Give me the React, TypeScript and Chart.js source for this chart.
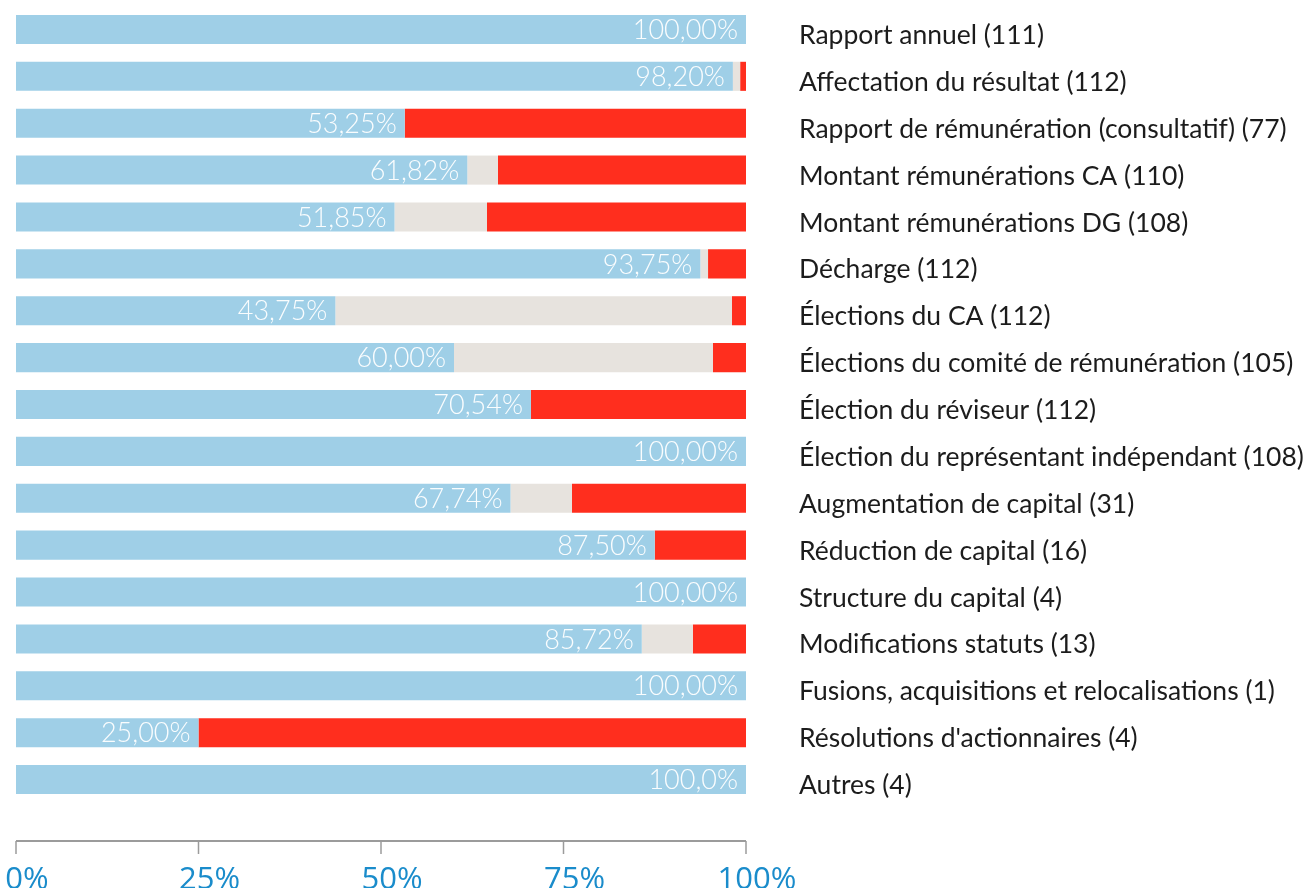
import React, { useEffect, useRef } from "react";
import { Chart, registerables } from "chart.js";

Chart.register(...registerables);

const categories = [
  "Rapport annuel (111)",
  "Affectation du résultat (112)",
  "Rapport de rémunération (consultatif) (77)",
  "Montant rémunérations CA (110)",
  "Montant rémunérations DG (108)",
  "Décharge (112)",
  "Élections du CA (112)",
  "Élections du comité de rémunération (105)",
  "Élection du réviseur (112)",
  "Élection du représentant indépendant (108)",
  "Augmentation de capital (31)",
  "Réduction de capital (16)",
  "Structure du capital (4)",
  "Modifications statuts (13)",
  "Fusions, acquisitions et relocalisations (1)",
  "Résolutions d'actionnaires (4)",
  "Autres (4)",
];

const approveValues = [100, 98.2, 53.25, 61.82, 51.85, 93.75, 43.75, 60, 70.54, 100, 67.74, 87.5, 100, 85.72, 100, 25, 100];
const abstainValues = [0, 1.0, 0, 4.2, 12.67, 1.05, 54.33, 35.48, 0, 0, 8.42, 0, 0, 7.0, 0, 0, 0];
const rejectValues = [0, 0.8, 46.75, 33.98, 35.48, 5.2, 1.92, 4.52, 29.46, 0, 23.84, 12.5, 0, 7.28, 0, 75, 0];

const valueLabels = [
  "100,00%", "98,20%", "53,25%", "61,82%", "51,85%", "93,75%", "43,75%", "60,00%", "70,54%",
  "100,00%", "67,74%", "87,50%", "100,00%", "85,72%", "100,00%", "25,00%", "100,0%",
];

const xTickValues = [0, 25, 50, 75, 100];

const BLUE = "#9fcfe7";
const GREY = "#e7e3de";
const RED = "#ff2e1e";

const valueLabelPlugin = {
  id: "valueLabels",
  afterDatasetsDraw(chart: any) {
    const meta = chart.getDatasetMeta(0);
    const ctx = chart.ctx;
    ctx.save();
    ctx.font = "300 27px Lato";
    ctx.fillStyle = "rgba(255,255,255,0.95)";
    ctx.textAlign = "right";
    ctx.textBaseline = "middle";
    meta.data.forEach((bar: any, i: number) => {
      ctx.fillText(valueLabels[i], bar.x - 8, bar.y + 1);
    });
    ctx.restore();
  },
};

const axisLinePlugin = {
  id: "axisLine",
  afterDraw(chart: any) {
    const { ctx, chartArea, scales } = chart;
    const y = chartArea.bottom + 38;
    ctx.save();
    ctx.strokeStyle = "#9b9b9b";
    ctx.lineWidth = 2;
    ctx.beginPath();
    ctx.moveTo(chartArea.left, y);
    ctx.lineTo(chartArea.right, y);
    ctx.stroke();
    ctx.lineWidth = 1.5;
    xTickValues.forEach((v) => {
      const x = scales.x.getPixelForValue(v);
      ctx.beginPath();
      ctx.moveTo(x, y);
      ctx.lineTo(x, y + 13);
      ctx.stroke();
    });
    ctx.restore();
  },
};

function zeroPadding(scale: any) {
  scale.paddingLeft = 0;
  scale.paddingRight = 0;
  scale.paddingTop = 0;
  scale.paddingBottom = 0;
}

export default function App() {
  const canvasRef = useRef<HTMLCanvasElement | null>(null);

  useEffect(() => {
    document.body.style.margin = "0";
    const canvas = canvasRef.current;
    if (!canvas) return;
    const chart = new Chart(canvas, {
      type: "bar",
      data: {
        labels: categories,
        datasets: [
          { label: "Pour", data: approveValues, backgroundColor: BLUE },
          { label: "Abstention", data: abstainValues, backgroundColor: GREY },
          { label: "Contre", data: rejectValues, backgroundColor: RED },
        ],
      },
      options: {
        indexAxis: "y",
        responsive: false,
        animation: false,
        datasets: { bar: { barPercentage: 0.62, categoryPercentage: 1 } },
        layout: { padding: { left: 16, top: 6, right: 0, bottom: 0 } },
        plugins: { legend: { display: false }, tooltip: { enabled: false } },
        scales: {
          x: {
            stacked: true,
            min: 0,
            max: 100,
            afterBuildTicks(scale: any) {
              scale.ticks = xTickValues.map((v) => ({ value: v }));
            },
            afterFit(scale: any) {
              scale.height = 85;
              zeroPadding(scale);
            },
            grid: { display: false, drawTicks: false },
            border: { display: false },
            ticks: {
              padding: 59,
              labelOffset: 11,
              color: "#1a8ccb",
              font: { family: "'Open Sans'", size: 31 },
              maxRotation: 0,
              autoSkip: false,
              callback: (v: any) => `${v}%`,
            },
          },
          y: {
            stacked: true,
            position: "right",
            afterFit(scale: any) {
              scale.width = 567;
              zeroPadding(scale);
            },
            grid: { display: false, drawTicks: false },
            border: { display: false },
            ticks: {
              padding: 53,
              crossAlign: "near",
              labelOffset: 6,
              color: "#1c1c1c",
              font: { family: "Lato", size: 26.5 },
              autoSkip: false,
            },
          },
        },
      },
      plugins: [valueLabelPlugin, axisLinePlugin],
    });
    return () => chart.destroy();
  }, []);

  return (
    <div style={{ width: 1313, height: 888 }}>
      <canvas ref={canvasRef} width={1313} height={888} />
    </div>
  );
}
